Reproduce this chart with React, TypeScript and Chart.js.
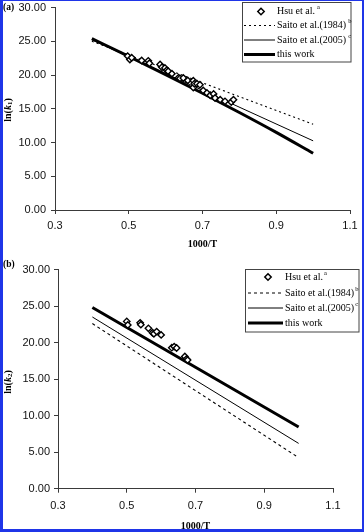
import React, { useEffect, useRef } from "react";
import { Chart, registerables } from "chart.js";

Chart.register(...registerables);

// Axis ticks shared by both panels
const xTicks = [0.3, 0.5, 0.7, 0.9, 1.1];
const yTicks = [0, 5, 10, 15, 20, 25, 30];

// Legend entries
const legendLabels = ["Hsu et al.", "Saito et al.(1984)", "Saito et al.(2005)", "this work"];
const legendSups = ["a", "b", "c", ""];

// Panel (a): ln(k1) vs 1000/T
const hsuAx = [0.497, 0.503, 0.508, 0.535, 0.553, 0.556, 0.585, 0.59, 0.598, 0.603, 0.607, 0.617, 0.635, 0.639, 0.648, 0.66, 0.675, 0.675, 0.678, 0.685, 0.693, 0.702, 0.712, 0.721, 0.73, 0.734, 0.748, 0.761, 0.778, 0.784];
const hsuAy = [22.8, 22.3, 22.55, 22.15, 22.1, 21.75, 21.55, 21.15, 21.05, 20.7, 20.55, 20.2, 19.6, 19.5, 19.55, 19.2, 19.15, 18.15, 18.7, 18.7, 18.55, 17.7, 17.35, 17.0, 17.2, 16.6, 16.35, 16.1, 16.0, 16.35];
const thisWorkAx = [0.4, 0.5, 0.6, 0.7, 0.8, 0.9, 1.0];
const thisWorkAy = [25.4, 22.75, 20.05, 17.3, 14.45, 11.5, 8.4];
const saitoAx = [0.4, 1.0];
const saito1984Ay = [25.0, 12.7];
const saito2005Ay = [25.2, 10.25];

// Panel (b): ln(k2) vs 1000/T
const hsuBx = [0.5, 0.503, 0.539, 0.541, 0.563, 0.575, 0.579, 0.587, 0.6, 0.631, 0.638, 0.645, 0.669, 0.674, 0.677];
const hsuBy = [22.9, 22.4, 22.7, 22.45, 21.95, 21.35, 21.2, 21.5, 21.05, 19.3, 19.45, 19.25, 18.1, 17.75, 17.6];
const linesBx = [0.4, 1.0];
const thisWorkBy = [24.8, 8.45];
const saito2005By = [23.5, 6.2];
const saito1984By = [22.6, 4.25];

const W = 364;
const SANS = 'Arial, "Liberation Sans", sans-serif';
const SERIF = '"Liberation Serif", "Times New Roman", serif';
const AXIS = "#3a3a3a";

const zip = (xs: number[], ys: number[]) => xs.map((x, i) => ({ x, y: ys[i] }));

type Spec = {
  top: number;
  height: number;
  area: { left: number; right: number; top: number; bottom: number };
  xPad: number;
  yPad: number;
  sub: string;
  tag: string;
  tagX: number;
  tagY: number;
  tagSize: number;
  xTitleY: number;
  yTitleX: number;
  yTitleY: number;
  legend: { x: number; y: number; w: number; h: number; rows: number[]; x1: number; x2: number; mx: number; tx: number; supGap: number };
  dash: number[];
  hsu: { x: number; y: number }[];
  s1984: { x: number; y: number }[];
  s2005: { x: number; y: number }[];
  work: { x: number; y: number }[];
};

const panelA: Spec = {
  top: 0,
  height: 252,
  area: { left: 55, right: 350, top: 7.5, bottom: 210 },
  xPad: 5,
  yPad: 5,
  sub: "1",
  tag: "(a)",
  tagX: 3,
  tagY: 8,
  tagSize: 9.5,
  xTitleY: 244,
  yTitleX: 8,
  yTitleY: 110,
  legend: { x: 242.5, y: 2.5, w: 108.5, h: 59.5, rows: [11.5, 25.5, 40, 54.5], x1: 244, x2: 275, mx: 261, tx: 277, supGap: 2 },
  dash: [2, 3],
  hsu: zip(hsuAx, hsuAy),
  s1984: zip(saitoAx, saito1984Ay),
  s2005: zip(saitoAx, saito2005Ay),
  work: zip(thisWorkAx, thisWorkAy),
};

const panelB: Spec = {
  top: 255,
  height: 277,
  area: { left: 58, right: 333, top: 14.5, bottom: 233.7 },
  xPad: 6.5,
  yPad: 4,
  sub: "2",
  tag: "(b)",
  tagX: 3,
  tagY: 9.5,
  tagSize: 9.5,
  xTitleY: 271,
  yTitleX: 8,
  yTitleY: 127,
  legend: { x: 245.5, y: 14.5, w: 113.5, h: 62.5, rows: [22, 38, 53, 68], x1: 248, x2: 283, mx: 268, tx: 285, supGap: 1 },
  dash: [3, 3],
  hsu: zip(hsuBx, hsuBy),
  s1984: zip(linesBx, saito1984By),
  s2005: zip(linesBx, saito2005By),
  work: zip(linesBx, thisWorkBy),
};

function diamond(ctx: CanvasRenderingContext2D, x: number, y: number, r: number) {
  ctx.beginPath();
  ctx.moveTo(x, y - r);
  ctx.lineTo(x + r, y);
  ctx.lineTo(x, y + r);
  ctx.lineTo(x - r, y);
  ctx.closePath();
  ctx.fillStyle = "#fff";
  ctx.fill();
  ctx.lineWidth = 1.5;
  ctx.strokeStyle = "#000";
  ctx.stroke();
}

// Axis titles, panel tag and the boxed legend inside the plot
function makeDecor(spec: Spec) {
  return {
    id: "decor",
    afterDraw(chart: any) {
      const ctx: CanvasRenderingContext2D = chart.ctx;
      const a = chart.chartArea;
      ctx.save();
      ctx.fillStyle = "#000";
      ctx.textBaseline = "middle";

      ctx.textAlign = "left";
      ctx.font = `bold ${spec.tagSize}px ${SERIF}`;
      ctx.fillText(spec.tag, spec.tagX, spec.tagY);

      ctx.textAlign = "center";
      ctx.font = `bold 10px ${SERIF}`;
      ctx.fillText("1000/T", (a.left + a.right) / 2, spec.xTitleY);

      // rotated ln(k_n)
      const parts = [
        { t: "ln(", f: `bold 10px ${SERIF}`, dy: 0 },
        { t: "k", f: `italic bold 10px ${SERIF}`, dy: 0 },
        { t: spec.sub, f: `bold 7px ${SERIF}`, dy: 2.5 },
        { t: ")", f: `bold 10px ${SERIF}`, dy: 0 },
      ];
      let total = 0;
      for (const p of parts) {
        ctx.font = p.f;
        total += ctx.measureText(p.t).width;
      }
      ctx.save();
      ctx.translate(spec.yTitleX, spec.yTitleY);
      ctx.rotate(-Math.PI / 2);
      ctx.textAlign = "left";
      let cx = -total / 2;
      for (const p of parts) {
        ctx.font = p.f;
        ctx.fillText(p.t, cx, p.dy);
        cx += ctx.measureText(p.t).width;
      }
      ctx.restore();

      // legend
      const L = spec.legend;
      ctx.fillStyle = "#fff";
      ctx.fillRect(L.x, L.y, L.w, L.h);
      ctx.lineWidth = 1;
      ctx.strokeStyle = "#444";
      ctx.strokeRect(L.x, L.y, L.w, L.h);
      const ds = chart.data.datasets;
      ds.forEach((d: any, i: number) => {
        const y = L.rows[i];
        if (i === 0) {
          diamond(ctx, L.mx, y, 3.2);
        } else {
          ctx.beginPath();
          ctx.setLineDash(d.borderDash || []);
          ctx.lineWidth = d.borderWidth;
          ctx.strokeStyle = "#000";
          ctx.moveTo(L.x1, y);
          ctx.lineTo(L.x2, y);
          ctx.stroke();
          ctx.setLineDash([]);
        }
        ctx.fillStyle = "#000";
        ctx.textAlign = "left";
        ctx.font = `10px ${SERIF}`;
        const label = legendLabels[i];
        ctx.fillText(label, L.tx, y);
        const w = ctx.measureText(label).width;
        if (legendSups[i]) {
          ctx.font = `6.5px ${SERIF}`;
          ctx.fillText(legendSups[i], L.tx + w + L.supGap, y - 4);
        }
      });
      ctx.restore();
    },
  };
}

function buildConfig(spec: Spec): any {
  const A = spec.area;
  const tickFont = { family: SANS, size: 11 };
  return {
    type: "scatter",
    data: {
      datasets: [
        {
          label: legendLabels[0],
          data: spec.hsu,
          showLine: false,
          pointStyle: "rectRot",
          pointRadius: 3.2,
          pointBorderWidth: 1.4,
          pointBorderColor: "#000",
          pointBackgroundColor: "#fff",
        },
        {
          label: legendLabels[1],
          data: spec.s1984,
          showLine: true,
          borderColor: "#000",
          borderWidth: 1.1,
          borderDash: spec.dash,
          pointRadius: 0,
        },
        {
          label: legendLabels[2],
          data: spec.s2005,
          showLine: true,
          borderColor: "#000",
          borderWidth: 1,
          pointRadius: 0,
        },
        {
          label: legendLabels[3],
          data: spec.work,
          showLine: true,
          borderColor: "#000",
          borderWidth: 3,
          cubicInterpolationMode: "monotone",
          pointRadius: 0,
        },
      ],
    },
    options: {
      animation: false,
      responsive: false,
      maintainAspectRatio: false,
      devicePixelRatio: 1,
      events: [],
      layout: { padding: { left: 0, right: W - A.right, top: A.top, bottom: 0 } },
      plugins: { legend: { display: false }, tooltip: { enabled: false }, title: { display: false } },
      scales: {
        x: {
          type: "linear",
          min: xTicks[0],
          max: xTicks[xTicks.length - 1],
          afterBuildTicks: (s: any) => {
            s.ticks = xTicks.map((v) => ({ value: v }));
          },
          afterFit: (s: any) => {
            s.height = spec.height - A.bottom;
            s.paddingLeft = 0;
            s.paddingRight = 0;
          },
          ticks: {
            font: tickFont,
            color: "#111",
            padding: spec.xPad,
            maxRotation: 0,
            autoSkip: false,
            callback: (v: any) => Number(v).toFixed(1),
          },
          grid: { drawOnChartArea: false, drawTicks: true, tickLength: 4, color: AXIS, lineWidth: 1 },
          border: { display: true, color: AXIS, width: 1 },
        },
        y: {
          type: "linear",
          min: yTicks[0],
          max: yTicks[yTicks.length - 1],
          afterBuildTicks: (s: any) => {
            s.ticks = yTicks.map((v) => ({ value: v }));
          },
          afterFit: (s: any) => {
            s.width = A.left;
            s.paddingTop = 0;
            s.paddingBottom = 0;
          },
          ticks: {
            font: tickFont,
            color: "#111",
            padding: spec.yPad,
            autoSkip: false,
            callback: (v: any) => Number(v).toFixed(2),
          },
          grid: { drawOnChartArea: false, drawTicks: true, tickLength: 4, color: AXIS, lineWidth: 1 },
          border: { display: true, color: AXIS, width: 1 },
        },
      },
    },
    plugins: [makeDecor(spec)],
  };
}

function Panel({ spec }: { spec: Spec }) {
  const ref = useRef<HTMLCanvasElement>(null);
  useEffect(() => {
    const chart = new Chart(ref.current as HTMLCanvasElement, buildConfig(spec));
    return () => chart.destroy();
  }, [spec]);
  return (
    <canvas
      ref={ref}
      width={W}
      height={spec.height}
      style={{ position: "absolute", left: 0, top: spec.top, width: W, height: spec.height, display: "block" }}
    />
  );
}

export default function App() {
  return (
    <div style={{ position: "absolute", left: 0, top: 0, width: W, height: 532, background: "#fff", overflow: "hidden" }}>
      <Panel spec={panelA} />
      <Panel spec={panelB} />
      <div
        style={{
          position: "absolute",
          left: 0,
          top: 0,
          width: W,
          height: 532,
          boxSizing: "border-box",
          borderStyle: "solid",
          borderColor: "#1f35e8",
          borderWidth: "1px 2px 3px 3px",
          pointerEvents: "none",
        }}
      />
    </div>
  );
}
